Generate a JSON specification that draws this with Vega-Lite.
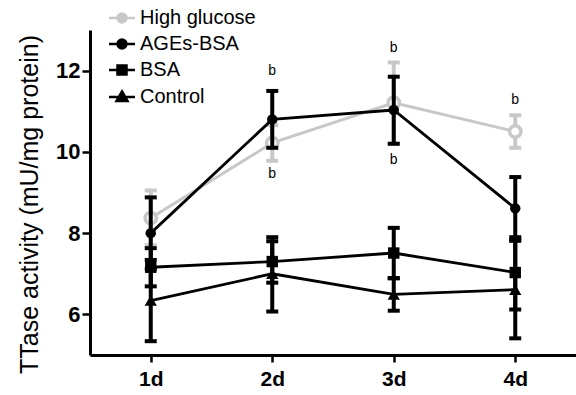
{
  "$schema": "https://vega.github.io/schema/vega-lite/v6.json",
  "width": 486,
  "height": 325,
  "autosize": "none",
  "padding": {"left": 90, "top": 30, "right": 0, "bottom": 40},
  "background": "white",
  "config": {
    "view": {"stroke": null},
    "font": "Liberation Sans",
    "axis": {"grid": false, "domainColor": "black", "domainWidth": 3, "tickColor": "black", "tickWidth": 2.5, "labelColor": "black", "titleColor": "black"}
  },
  "datasets": {
    "main": [
      {"day": "1d", "group": "High glucose", "mean": 8.37, "lo": 7.7, "hi": 9.05},
      {"day": "2d", "group": "High glucose", "mean": 10.22, "lo": 9.78, "hi": 10.66},
      {"day": "3d", "group": "High glucose", "mean": 11.21, "lo": 10.2, "hi": 12.2},
      {"day": "4d", "group": "High glucose", "mean": 10.5, "lo": 10.1, "hi": 10.9},
      {"day": "1d", "group": "AGEs-BSA", "mean": 8.0, "lo": 7.12, "hi": 8.88},
      {"day": "2d", "group": "AGEs-BSA", "mean": 10.8, "lo": 10.1, "hi": 11.5},
      {"day": "3d", "group": "AGEs-BSA", "mean": 11.03, "lo": 10.2, "hi": 11.85},
      {"day": "4d", "group": "AGEs-BSA", "mean": 8.61, "lo": 7.84, "hi": 9.38},
      {"day": "1d", "group": "BSA", "mean": 7.16, "lo": 6.69, "hi": 7.63},
      {"day": "2d", "group": "BSA", "mean": 7.3, "lo": 6.78, "hi": 7.9},
      {"day": "3d", "group": "BSA", "mean": 7.51, "lo": 6.89, "hi": 8.13},
      {"day": "4d", "group": "BSA", "mean": 7.03, "lo": 6.12, "hi": 7.9},
      {"day": "1d", "group": "Control", "mean": 6.34, "lo": 5.34, "hi": 7.34},
      {"day": "2d", "group": "Control", "mean": 7.0, "lo": 6.07, "hi": 7.8},
      {"day": "3d", "group": "Control", "mean": 6.49, "lo": 6.09, "hi": 6.89},
      {"day": "4d", "group": "Control", "mean": 6.61, "lo": 5.41, "hi": 7.81}
    ],
    "labels": [
      {"day": "2d", "y": 12.0, "label": "b"},
      {"day": "2d", "y": 9.46, "label": "b"},
      {"day": "3d", "y": 12.56, "label": "b"},
      {"day": "3d", "y": 9.81, "label": "b"},
      {"day": "4d", "y": 11.27, "label": "b"}
    ]
  },
  "data": {"name": "main"},
  "encoding": {
    "x": {"field": "day", "type": "ordinal", "scale": {"type": "point", "padding": 0.5},
      "axis": {"title": null, "labelAngle": 0, "labelFontSize": 21, "labelFontWeight": "bold", "tickSize": 7, "labelPadding": 6}},
    "y": {"field": "mean", "type": "quantitative", "scale": {"domain": [5, 13], "nice": false, "zero": false},
      "axis": {"title": "TTase activity (mU/mg protein)", "titleFontSize": 25, "titleFontWeight": "normal", "titlePadding": 13, "titleY": 174, "values": [6, 8, 10, 12], "labelFontSize": 22, "labelFontWeight": "bold", "tickSize": 8, "labelPadding": 2}}
  },
  "layer": [
    {
      "transform": [{"filter": "datum.group === 'High glucose'"}],
      "layer": [
        {"mark": {"type": "line", "strokeWidth": 3},
          "encoding": {"color": {"field": "group", "type": "nominal",
            "scale": {"domain": ["High glucose", "AGEs-BSA", "BSA", "Control"], "range": ["#c8c8c8", "black", "black", "black"]},
            "legend": {"orient": "none", "legendX": 22, "legendY": -22, "title": null, "padding": 0, "labelFontSize": 20, "labelColor": "black", "labelOffset": 8, "rowPadding": 6, "symbolSize": 100,
              "encode": {"symbols": {"update": {
                "shape": {"signal": "datum.value === 'BSA' ? 'M-2.6,0H2.6M-0.9,-0.9H0.9V0.9H-0.9Z' : datum.value === 'Control' ? 'M-2.6,0H2.6M0,-1.1L1.1,0.8H-1.1Z' : 'M-2.6,0H2.6M0.9,0A0.9,0.9,0,1,1,-0.9,0A0.9,0.9,0,1,1,0.9,0Z'"},
                "fill": {"signal": "datum.value === 'High glucose' ? 'white' : 'black'"},
                "stroke": {"signal": "datum.value === 'High glucose' ? '#c8c8c8' : 'black'"},
                "strokeWidth": {"value": 2.5},
                "opacity": {"value": 1}}}}}}}},
        {"mark": {"type": "rule", "strokeWidth": 4, "opacity": 1},
          "encoding": {"y": {"field": "lo", "type": "quantitative"}, "y2": {"field": "hi"}, "color": {"field": "group", "type": "nominal"}}},
        {"mark": {"type": "tick", "thickness": 4, "size": 12, "opacity": 1},
          "encoding": {"y": {"field": "lo", "type": "quantitative"}, "color": {"field": "group", "type": "nominal"}}},
        {"mark": {"type": "tick", "thickness": 4, "size": 12, "opacity": 1},
          "encoding": {"y": {"field": "hi", "type": "quantitative"}, "color": {"field": "group", "type": "nominal"}}},
        {"mark": {"type": "point", "shape": "circle", "size": 130, "strokeWidth": 3.5, "fill": "white", "stroke": "#c8c8c8", "opacity": 1}}
      ]
    },
    {
      "transform": [{"filter": "datum.group !== 'High glucose'"}],
      "layer": [
        {"mark": {"type": "line", "strokeWidth": 2.8},
          "encoding": {"detail": {"field": "group"}, "color": {"field": "group", "type": "nominal"}}},
        {"mark": {"type": "rule", "strokeWidth": 4, "opacity": 1},
          "encoding": {"y": {"field": "lo", "type": "quantitative"}, "y2": {"field": "hi"}, "color": {"field": "group", "type": "nominal"}}},
        {"mark": {"type": "tick", "thickness": 4, "size": 12, "opacity": 1},
          "encoding": {"y": {"field": "lo", "type": "quantitative"}, "color": {"field": "group", "type": "nominal"}}},
        {"mark": {"type": "tick", "thickness": 4, "size": 12, "opacity": 1},
          "encoding": {"y": {"field": "hi", "type": "quantitative"}, "color": {"field": "group", "type": "nominal"}}},
        {"mark": {"type": "point", "filled": true, "opacity": 1, "color": "black"},
          "encoding": {
            "shape": {"field": "group", "type": "nominal", "scale": {"domain": ["AGEs-BSA", "BSA", "Control"], "range": ["circle", "square", "triangle-up"]}, "legend": null},
            "size": {"field": "group", "type": "nominal", "scale": {"domain": ["AGEs-BSA", "BSA", "Control"], "range": [110, 150, 110]}, "legend": null}}}
      ]
    },
    {
      "data": {"name": "labels"},
      "mark": {"type": "text", "fontSize": 14, "color": "black", "baseline": "middle"},
      "encoding": {"y": {"field": "y", "type": "quantitative"}, "text": {"field": "label"}}
    }
  ]
}
